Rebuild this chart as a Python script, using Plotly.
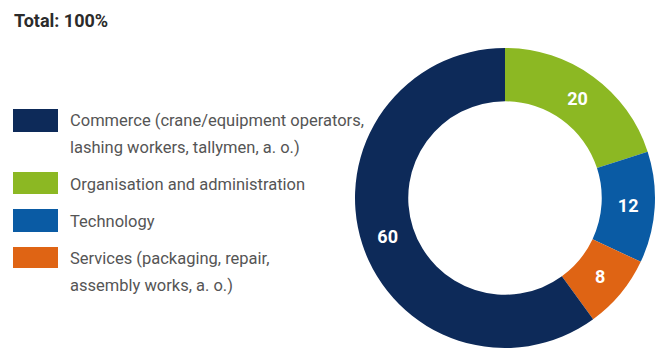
import plotly.graph_objects as go

# Share of employees by field of activity (percent)
categories = [
    "Commerce (crane/equipment operators,<br>lashing workers, tallymen, a. o.)",
    "Organisation and administration",
    "Technology",
    "Services (packaging, repair,<br>assembly works, a. o.)",
]
values = [60, 20, 12, 8]
colors = ["#0d2a59", "#8cb823", "#0a5ba4", "#df6414"]

# Slices run clockwise from 12 o'clock, starting with Organisation
pie_order = [1, 2, 3, 0]

W, H = 663, 348
FONT = "Roboto, Liberation Sans, sans-serif"

fig = go.Figure()
fig.add_trace(go.Pie(
    values=[values[i] for i in pie_order],
    labels=[categories[i].replace("<br>", " ") for i in pie_order],
    marker=dict(colors=[colors[i] for i in pie_order], line=dict(width=0)),
    sort=False,
    direction="clockwise",
    rotation=0,
    hole=0.645,
    textinfo="value",
    textposition="inside",
    insidetextorientation="horizontal",
    textfont=dict(family=FONT, size=18, color="white", weight="bold"),
    showlegend=False,
    hoverinfo="label+value",
    domain=dict(x=[355 / W, 655 / W], y=[0, 300 / H]),
))

# Title
fig.add_annotation(
    text="<b>Total: 100%</b>", x=12 / W, y=1 - 21 / H, xref="paper", yref="paper",
    xanchor="left", yanchor="middle", showarrow=False,
    font=dict(family=FONT, size=18, color="#2b2b2b"),
)

# Hand-built legend: swatches plus one annotation per text line
swatch_rows = [(109, 132), (172, 194), (209, 232), (247, 268)]
first_line_y = [120, 184, 221, 258]
line_step = 27
for cat, col, (y0, y1), yc in zip(categories, colors, swatch_rows, first_line_y):
    fig.add_shape(
        type="rect", xref="paper", yref="paper",
        x0=13 / W, x1=58 / W, y0=1 - y1 / H, y1=1 - y0 / H,
        fillcolor=col, line=dict(width=0),
    )
    for k, line in enumerate(cat.split("<br>")):
        fig.add_annotation(
            text=line, x=68 / W, y=1 - (yc + k * line_step) / H,
            xref="paper", yref="paper",
            xanchor="left", yanchor="middle", align="left", showarrow=False,
            font=dict(family=FONT, size=16.5, color="#555555"),
        )

fig.update_layout(
    width=W, height=H,
    margin=dict(l=0, r=0, t=0, b=0),
    paper_bgcolor="white", plot_bgcolor="white",
)

fig.write_html("out.html")
